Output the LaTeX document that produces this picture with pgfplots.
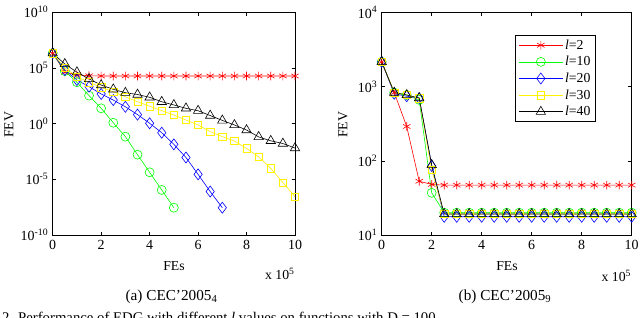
\documentclass[border=0pt]{standalone}
\usepackage{pgfplots}
\pgfplotsset{compat=1.18}
\usepackage{fontspec}
\setmainfont{Liberation Serif}
\newcommand{\fs}{\fontsize{13.8}{15.5}\selectfont}
\newcommand{\fst}{\fontsize{14}{16}\selectfont}
\newcommand{\fsc}{\fontsize{15.3}{17}\selectfont}
\newcommand{\fsb}{\fontsize{14.8}{17}\selectfont}
\begin{document}
\begin{tikzpicture}
\path[use as bounding box] (0,0) rectangle (640bp,-318bp);
% ---------- (a) ----------
\begin{axis}[
  scale only axis, ymode=log, xmin=0, xmax=10, xtick={0,2,4,6,8,10},
  yminorticks=false, tick align=inside, major tick length=3.5bp,
  tick style={black, line width=0.5bp}, axis line style={line width=0.6bp},
  tick label style={font=\fst}, xticklabel style={yshift=-2bp}, yticklabel style={xshift=-1bp},
  xticklabels={0,2,4,6,8,10},
  at={(52.7bp,-235bp)}, anchor=south west,
  width=242.3bp, height=223bp,
  ymin=1e-10, ymax=1e10,
  ytick={1e-10,1e-5,1,1e5,1e10},
  yticklabels={10\textsuperscript{-10},10\textsuperscript{-5},10\textsuperscript{0},10\textsuperscript{5},10\textsuperscript{10}},
]
\addplot[color=red, mark=asterisk, mark size=4.3bp, line width=0.6bp] coordinates {(0,2e6)(0.5,4e4)(1,2.4e4)(1.5,1.9e4)(2,1.82e4)(2.5,1.82e4)(3,1.82e4)(3.5,1.82e4)(4,1.82e4)(4.5,1.82e4)(5,1.82e4)(5.5,1.82e4)(6,1.82e4)(6.5,1.82e4)(7,1.82e4)(7.5,1.82e4)(8,1.82e4)(8.5,1.82e4)(9,1.82e4)(9.5,1.82e4)(10,1.82e4)};
\addplot[color=green, mark=o, mark size=4.5bp, line width=0.6bp] coordinates {(0,2e6)(0.5,5e4)(1,5e3)(1.5,316)(2,23)(2.5,1.17)(3,6.6e-2)(3.5,1.6e-3)(4,4.2e-5)(4.5,1.1e-6)(5,2.8e-8)};
\addplot[color=blue, mark=diamond, mark size=5.5bp, line width=0.6bp] coordinates {(0,2e6)(0.5,6.3e4)(1,7.9e3)(1.5,2e3)(2,447)(2.5,126)(3,31.6)(3.5,6.3)(4,1.05)(4.5,0.15)(5,1.35e-2)(5.5,8.9e-4)(6,2.75e-5)(6.5,7.9e-7)(7,2.8e-8)};
\addplot[color=yellow, mark=square, mark size=3.7bp, line width=0.6bp] coordinates {(0,2e6)(0.5,1e5)(1,1.6e4)(1.5,5e3)(2,1.74e3)(2.5,708)(3,251)(3.5,89)(4,35.5)(4.5,14.1)(5,5.75)(5.5,2.04)(6,0.74)(6.5,0.186)(7,0.066)(7.5,0.027)(8,5.9e-3)(8.5,1e-3)(9,9.5e-5)(9.5,5e-6)(10,2.75e-7)};
\addplot[color=black, mark=triangle, mark size=5.4bp, line width=0.6bp] coordinates {(0,2e6)(0.5,2.2e5)(1,4e4)(1.5,1e4)(2,2.8e3)(2.5,1.17e3)(3,575)(3.5,398)(4,224)(4.5,89)(5,46)(5.5,23)(6,14)(6.5,5.2)(7,1.9)(7.5,0.74)(8,0.26)(8.5,0.063)(9,0.028)(9.5,0.016)(10,6.3e-3)};
\end{axis}
% ---------- (b) ----------
\begin{axis}[
  scale only axis, ymode=log, xmin=0, xmax=10, xtick={0,2,4,6,8,10},
  yminorticks=false, tick align=inside, major tick length=3.5bp,
  tick style={black, line width=0.5bp}, axis line style={line width=0.6bp},
  tick label style={font=\fst}, xticklabel style={yshift=-2bp}, yticklabel style={xshift=-1bp},
  xticklabels={0,2,4,6,8,10},
  at={(381.7bp,-235bp)}, anchor=south west,
  width=250bp, height=222.7bp,
  ymin=10, ymax=1e4,
  ytick={10,100,1000,10000},
  yticklabels={10\textsuperscript{1},10\textsuperscript{2},10\textsuperscript{3},10\textsuperscript{4}},
  legend cell align=left,
  legend style={at={(1,1)}, anchor=north east, xshift=-36bp, yshift=-22.7bp,
    font=\fs, draw=black, line width=0.5bp, inner xsep=3bp, inner ysep=2.5bp, row sep=1.6bp},
  legend image code/.code={\draw[mark repeat=2,mark phase=2] plot coordinates {(0bp,0bp) (22bp,0bp) (44bp,0bp)};},
]
\addplot[color=red, mark=asterisk, mark size=4.3bp, line width=0.6bp] coordinates {(0,2150)(0.5,830)(1,290)(1.5,53)(2,48)(2.5,47)(3,47)(3.5,47)(4,47)(4.5,47)(5,47)(5.5,47)(6,47)(6.5,47)(7,47)(7.5,47)(8,47)(8.5,47)(9,47)(9.5,47)(10,47)};
\addlegendentry{\textit{l}=2}
\addplot[color=green, mark=o, mark size=4.5bp, line width=0.6bp] coordinates {(0,2150)(0.5,830)(1,770)(1.5,660)(2,37)(2.5,20)(3,20)(3.5,20)(4,20)(4.5,20)(5,20)(5.5,20)(6,20)(6.5,20)(7,20)(7.5,20)(8,20)(8.5,20)(9,20)(9.5,20)(10,20)};
\addlegendentry{\textit{l}=10}
\addplot[color=blue, mark=diamond, mark size=5.5bp, line width=0.6bp] coordinates {(0,2150)(0.5,800)(1,740)(1.5,700)(2,85)(2.5,17.6)(3,17.6)(3.5,17.6)(4,17.6)(4.5,17.6)(5,17.6)(5.5,17.6)(6,17.6)(6.5,17.6)(7,17.6)(7.5,17.6)(8,17.6)(8.5,17.6)(9,17.6)(9.5,17.6)(10,17.6)};
\addlegendentry{\textit{l}=20}
\addplot[color=yellow, mark=square, mark size=3.7bp, line width=0.6bp] coordinates {(0,2150)(0.5,830)(1,770)(1.5,690)(2,75)(2.5,19.2)(3,19.2)(3.5,19.2)(4,19.2)(4.5,19.2)(5,19.2)(5.5,19.2)(6,19.2)(6.5,19.2)(7,19.2)(7.5,19.2)(8,19.2)(8.5,19.2)(9,19.2)(9.5,19.2)(10,19.2)};
\addlegendentry{\textit{l}=30}
\addplot[color=black, mark=triangle, mark size=5.4bp, line width=0.6bp] coordinates {(0,2150)(0.5,830)(1,770)(1.5,700)(2,88)(2.5,19.2)(3,19.2)(3.5,19.2)(4,19.2)(4.5,19.2)(5,19.2)(5.5,19.2)(6,19.2)(6.5,19.2)(7,19.2)(7.5,19.2)(8,19.2)(8.5,19.2)(9,19.2)(9.5,19.2)(10,19.2)};
\addlegendentry{\textit{l}=40}
\end{axis}
% ---------- labels ----------
\node[font=\fs] at (174bp,-266bp) {FEs};
\node[font=\fs] at (507bp,-266.5bp) {FEs};
\node[font=\fs, rotate=90] at (9bp,-125bp) {FEV};
\node[font=\fs, rotate=90] at (343bp,-125bp) {FEV};
\node[font=\fs, anchor=east] at (298bp,-274bp) {x 10\textsuperscript{5}};
\node[font=\fs, anchor=east] at (634.5bp,-276bp) {x 10\textsuperscript{5}};
\node[font=\fsc] at (171.5bp,-297bp) {(a) CEC’2005\textsubscript{4}};
\node[font=\fsc] at (505bp,-297bp) {(b) CEC’2005\textsubscript{9}};
\node[font=\fsb, anchor=base west, inner sep=0pt] at (2bp,-322.5bp) {2. Performance of EDG with different \textit{l} values on functions with D = 100.};
\end{tikzpicture}
\end{document}
